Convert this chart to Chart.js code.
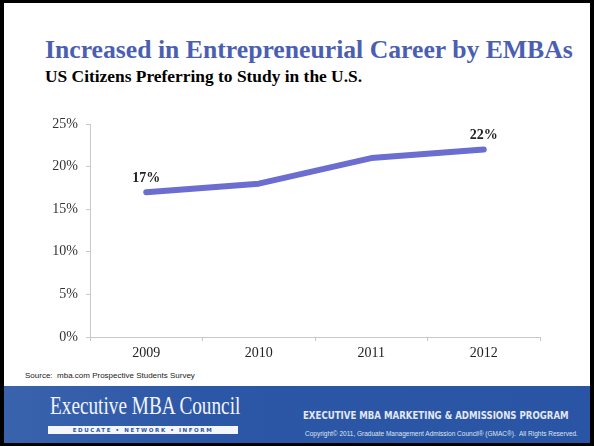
<!DOCTYPE html>
<html>
<head>
<meta charset="utf-8">
<script src="https://cdn.jsdelivr.net/npm/chart.js@4"></script>
<style>
  html, body { margin: 0; padding: 0; }
  body { width: 594px; height: 446px; background: #000; position: relative; overflow: hidden; }
  #slide { position: absolute; left: 4px; top: 3px; width: 586px; height: 440px; background: #fff; overflow: hidden; }
  .serif { font-family: "Liberation Serif", "Times New Roman", Times, "DejaVu Serif", serif; }
  #title { position: absolute; left: 41px; top: 32px; font-weight: bold; font-size: 25.7px; color: #4b5fb2; white-space: nowrap; }
  #subtitle { position: absolute; left: 41px; top: 63px; font-weight: bold; font-size: 17.4px; color: #000; white-space: nowrap; }
  #source { position: absolute; left: 21px; top: 368px; font: 8px "Liberation Sans", Arial, sans-serif; color: #222; white-space: nowrap; }
  #wrap { position: absolute; left: 16px; top: 104px; width: 530px; height: 260px; }
  #footer { position: absolute; left: 0; top: 383px; width: 586px; height: 57px;
    background: linear-gradient(90deg, #3a63ad 0%, #2c57a6 35%, #2a55a5 100%); }
  #council { position: absolute; left: 46px; top: 6px; font-size: 25px; color: #f2f4fa;
    transform: scaleX(0.77); transform-origin: left top; white-space: nowrap; }
  #tagline { position: absolute; left: 44px; top: 40px; width: 190px; height: 8px; background: #f4f6fb;
    font: bold 5.5px "DejaVu Sans", sans-serif; color: #2a55a5; letter-spacing: 1.6px; text-align: center; line-height: 8px; white-space: nowrap; }
  #program { position: absolute; left: 299px; top: 23px; font: bold 10.5px "DejaVu Sans Condensed", "DejaVu Sans", sans-serif; color: #e3e8f2;
    white-space: nowrap; transform: scaleX(0.91); transform-origin: left top; }
  #copy { position: absolute; left: 301px; top: 44px; font: 6.5px "Liberation Sans", Arial, sans-serif; color: #dfe5f0; white-space: nowrap; }
</style>
</head>
<body>
<div id="slide">
  <div id="title" class="serif">Increased in Entrepreneurial Career by EMBAs</div>
  <div id="subtitle" class="serif">US Citizens Preferring to Study in the U.S.</div>
  <div id="wrap"><canvas id="chart" width="530" height="260"></canvas></div>
  <div id="source">Source:&nbsp; mba.com Prospective Students Survey</div>
  <div id="footer">
    <div id="council" class="serif">Executive MBA Council</div>
    <div id="tagline">EDUCATE • NETWORK • INFORM</div>
    <div id="program">EXECUTIVE MBA MARKETING &amp; ADMISSIONS PROGRAM</div>
    <div id="copy">Copyright© 2011, Graduate Management Admission Council® (GMAC®).&nbsp; All Rights Reserved.</div>
  </div>
</div>
<script>
const years = ["2009", "2010", "2011", "2012"]
const preferUS = [17, 18, 21, 22]
const yTicks = [0, 5, 10, 15, 20, 25]
const labelledPoints = [0, 3]

const serifStack = "'Liberation Serif', 'Times New Roman', Times, 'DejaVu Serif', serif"

const endLabels = {
    id: "endLabels",
    afterDatasetsDraw(chart) {
        const ctx = chart.ctx
        const meta = chart.getDatasetMeta(0)
        ctx.save()
        ctx.font = "bold 14px " + serifStack
        ctx.fillStyle = "#222"
        ctx.textAlign = "center"
        ctx.textBaseline = "bottom"
        labelledPoints.forEach(i => {
            const pt = meta.data[i]
            ctx.fillText(preferUS[i] + "%", pt.x, pt.y - 7)
        })
        ctx.restore()
    }
}

new Chart(document.getElementById("chart"), {
    type: "line",
    data: {
        labels: years,
        datasets: [{
            data: preferUS,
            borderColor: "#6b6dd0",
            borderWidth: 6,
            borderCapStyle: "round",
            borderJoinStyle: "round",
            pointRadius: 0,
            tension: 0
        }]
    },
    options: {
        responsive: false,
        animation: false,
        layout: { padding: { top: 17, right: 10, left: 0, bottom: 0 } },
        plugins: { legend: { display: false }, tooltip: { enabled: false } },
        scales: {
            x: {
                offset: true,
                grid: { offset: true, drawOnChartArea: false, tickLength: 4, color: "#c8c8c8" },
                border: { color: "#c8c8c8" },
                ticks: { color: "#222", padding: 4, font: { family: serifStack, size: 14 } },
                afterFit(scale) { scale.height = 30 }
            },
            y: {
                min: yTicks[0],
                max: yTicks[yTicks.length - 1],
                afterBuildTicks(scale) { scale.ticks = yTicks.map(v => ({ value: v })) },
                grid: { drawOnChartArea: false, tickLength: 4, color: "#c8c8c8" },
                border: { color: "#c8c8c8" },
                ticks: {
                    color: "#333",
                    padding: 8,
                    font: { family: serifStack, size: 14 },
                    callback: v => v + "%"
                },
                afterFit(scale) { scale.width = 70 }
            }
        }
    },
    plugins: [endLabels]
})
</script>
</body>
</html>
